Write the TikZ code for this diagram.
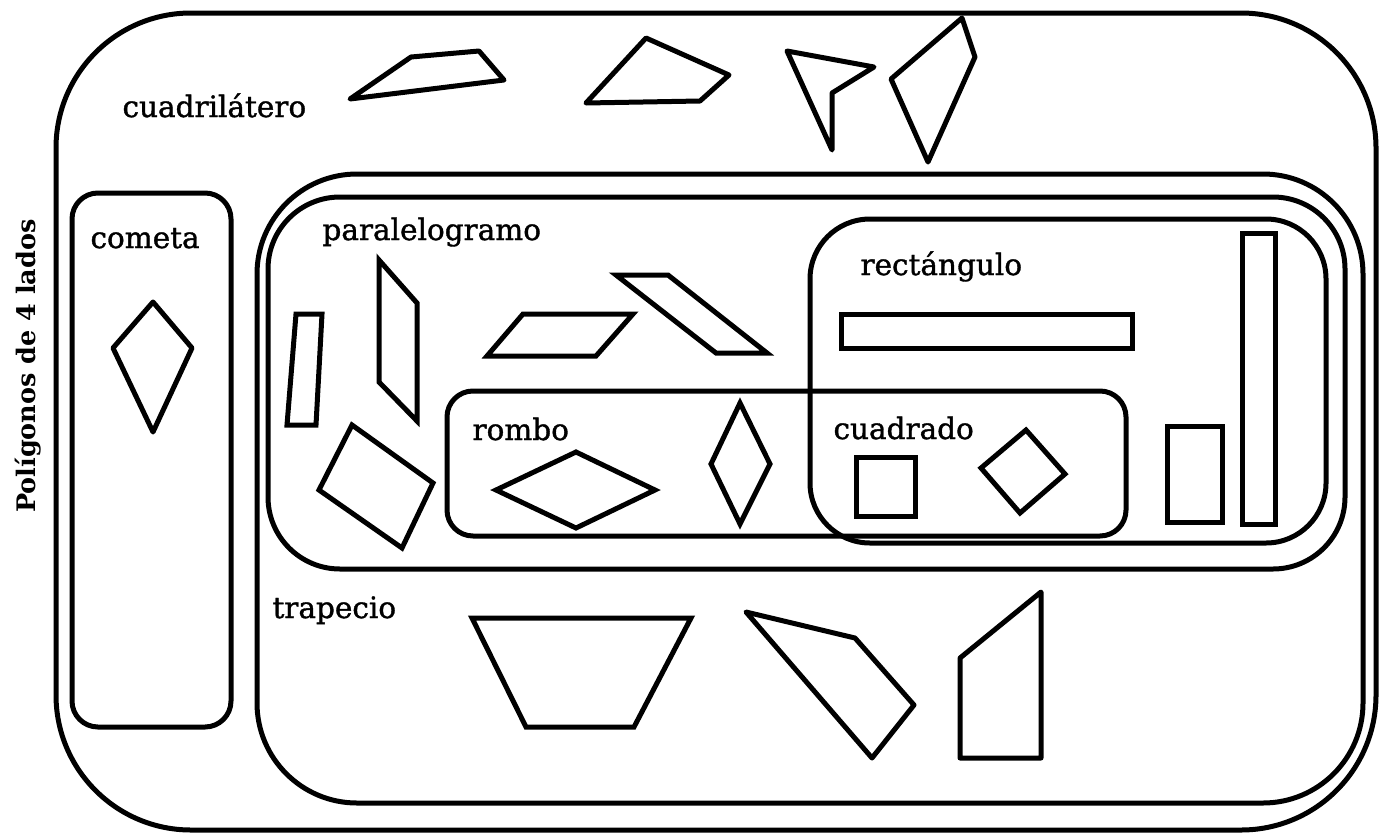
\documentclass[tikz,border=0pt]{standalone}
\usepackage{fontspec}
\setmainfont{DejaVu Serif}[FakeBold=1.2]
\newfontfamily\titlefont{DejaVu Serif}[UprightFont=* Bold]
\begin{document}
\begin{tikzpicture}[x=1pt,y=-1pt,
  line width=5pt,
  box/.style={draw=black,line width=5pt},
  shp/.style={draw=black,line width=5pt,line join=round},
  lbl/.style={anchor=base west,inner sep=0pt,font=\fontsize{29.5}{35}\selectfont},
]
\useasboundingbox (0,0) rectangle (1380,833);
% containers
\draw[box,rounded corners=135pt] (56,13) rectangle (1376,830);
\draw[box,rounded corners=26pt] (72,193) rectangle (231,727);
\draw[box,rounded corners=100pt] (257,174) rectangle (1363,803);
\draw[box,rounded corners=72pt] (268,197) rectangle (1345,569);
\draw[box,rounded corners=60pt] (810,219) rectangle (1326,543);
\draw[box,rounded corners=26pt] (447,391) rectangle (1126,536);
% labels
\node[lbl] (lcuad) at (120,117) {cuadrilátero};
\node[lbl] (lcom) at (88,248) {cometa};
\node[lbl] (lpar) at (320,240) {paralelogramo};
\node[lbl] (lrect) at (858,275) {rectángulo};
\node[lbl] (lrom) at (470,440) {rombo};
\node[lbl] (lcdo) at (831,439) {cuadrado};
\node[lbl] (ltrap) at (270,618) {trapecio};
\node[anchor=base,inner sep=0pt,rotate=90,font=\titlefont\fontsize{25.5}{30}\selectfont] (ltit) at (35,366) {Polígonos de 4 lados};
% cuadrilatero shapes
\draw[shp] (350,99) -- (411,57) -- (479,51) -- (504,80) -- cycle;
\draw[shp] (586,103) -- (646,38) -- (729,75) -- (700,101) -- cycle;
\draw[shp] (787,51) -- (874,67) -- (832,93) -- (832,150) -- cycle;
\draw[shp] (891,79) -- (962,18) -- (975,57) -- (928,162) -- cycle;
% cometa
\draw[shp] (113,348) -- (153,302) -- (192,348) -- (153,432) -- cycle;
% paralelogramo shapes
\draw[box] (287,425) -- (296,314) -- (322,314) -- (316,425) -- cycle;
\draw[box] (379,260) -- (417,303) -- (417,421) -- (379,382) -- cycle;
\draw[box] (487,356) -- (523,314) -- (633,314) -- (596,356) -- cycle;
\draw[box] (616,275) -- (668,275) -- (767,353) -- (716,353) -- cycle;
\draw[box] (319,490) -- (352,425) -- (433,483) -- (402,548) -- cycle;
% rombo shapes
\draw[box] (496,490) -- (576,452) -- (655,490) -- (576,528) -- cycle;
\draw[box] (711,464) -- (740,403) -- (770,464) -- (740,524) -- cycle;
% cuadrado shapes
\draw[box] (856,457) rectangle (915,516);
\draw[box] (981,468) -- (1026,430) -- (1065,474) -- (1020,513) -- cycle;
% rectangulo shapes
\draw[box] (841,314) rectangle (1132,348);
\draw[box] (1242,233) rectangle (1275,524);
\draw[box] (1167,426) rectangle (1222,522);
% trapecio shapes
\draw[box] (472,618) -- (691,618) -- (634,727) -- (526,727) -- cycle;
\draw[shp] (746,612) -- (855,638) -- (914,705) -- (872,758) -- cycle;
\draw[shp] (960,658) -- (1041,592) -- (1041,758) -- (960,758) -- cycle;
\end{tikzpicture}
\end{document}
